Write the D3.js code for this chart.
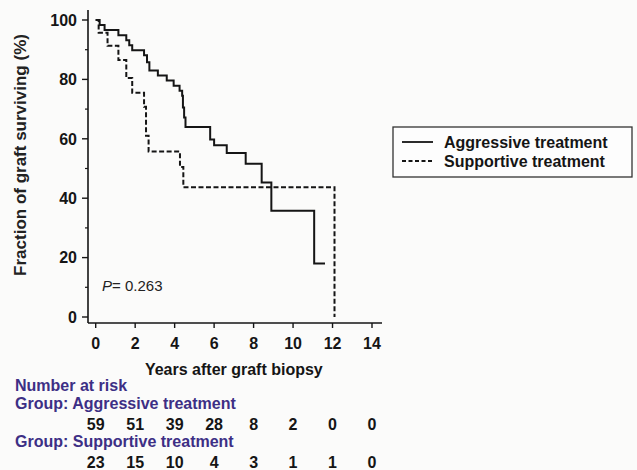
<!DOCTYPE html>
<html><head><meta charset="utf-8">
<script src="https://cdn.jsdelivr.net/npm/d3@7"></script>
<style>
html,body{margin:0;padding:0;background:#fbfbfa;}
svg{display:block;font-family:"Liberation Sans",Arial,sans-serif;}
</style></head>
<body>
<svg id="chart" width="637" height="470"></svg>
<script>
// ---- data ----
const aggressiveTimes  = [0, 0.2, 0.45, 1.15, 1.55, 1.7, 1.85, 2.45, 2.6, 2.72, 3.15, 3.6, 3.95, 4.25, 4.38, 4.42, 4.48, 4.55, 5.8, 6.0, 6.64, 7.6, 8.41, 8.9, 11.07, 11.62];
const aggressiveValues = [100, 98.3, 96.6, 94.9, 93.2, 91.5, 89.8, 88.1, 85.8, 83.0, 81.3, 79.6, 77.9, 76.2, 74.5, 70.5, 67.2, 64.0, 59.8, 57.8, 55.2, 51.6, 45.3, 35.8, 18.0, 18.0];
const supportiveTimes  = [0, 0.15, 0.6, 1.15, 1.55, 1.85, 2.45, 2.55, 2.68, 4.27, 4.44, 12.1];
const supportiveValues = [100, 95.7, 91.3, 86.5, 80.5, 75.5, 70.8, 61.0, 55.7, 50.5, 43.7, 0];
const xTicks = [0, 2, 4, 6, 8, 10, 12, 14];
const yTicks = [0, 20, 40, 60, 80, 100];
const yMinorTicks = [10, 30, 50, 70, 90];
const riskAggressive = [59, 51, 39, 28, 8, 2, 0, 0];
const riskSupportive = [23, 15, 10, 4, 3, 1, 1, 0];
const seriesNames = ["Aggressive treatment", "Supportive treatment"];

// ---- drawing ----
const svg = d3.select("#chart");
const ink = "#151515";
const x = d3.scaleLinear().domain([0, 14]).range([95.7, 372]);
const y = d3.scaleLinear().domain([0, 100]).range([317, 20]);

const axisLeftX = 88, axisBottomY = 323;

// y axis
const gy = svg.append("g").attr("transform", `translate(${axisLeftX},0)`);
gy.append("line").attr("x1",0).attr("x2",0).attr("y1",10).attr("y2",axisBottomY)
  .attr("stroke",ink).attr("stroke-width",1.6);
gy.selectAll("line.maj").data(yTicks).join("line").attr("class","maj")
  .attr("x1",-6).attr("x2",0).attr("y1",d=>y(d)).attr("y2",d=>y(d))
  .attr("stroke",ink).attr("stroke-width",1.4);
gy.selectAll("line.min").data(yMinorTicks).join("line").attr("class","min")
  .attr("x1",-3).attr("x2",0).attr("y1",d=>y(d)).attr("y2",d=>y(d))
  .attr("stroke",ink).attr("stroke-width",1.2);
gy.selectAll("text").data(yTicks).join("text")
  .attr("x",-11).attr("y",d=>y(d)).attr("dy","0.36em")
  .attr("text-anchor","end").attr("font-size",16).attr("font-weight","bold").attr("fill",ink)
  .text(d=>d);

// x axis
const gx = svg.append("g").attr("transform", `translate(0,${axisBottomY})`);
gx.append("line").attr("x1",axisLeftX).attr("x2",382).attr("y1",0).attr("y2",0)
  .attr("stroke",ink).attr("stroke-width",1.6);
gx.selectAll("line.t").data(xTicks).join("line").attr("class","t")
  .attr("x1",d=>x(d)).attr("x2",d=>x(d)).attr("y1",0).attr("y2",5)
  .attr("stroke",ink).attr("stroke-width",1.4);
gx.selectAll("text").data(xTicks).join("text")
  .attr("x",d=>x(d)).attr("y",26)
  .attr("text-anchor","middle").attr("font-size",16).attr("font-weight","bold").attr("fill",ink)
  .text(d=>d);

// axis titles
svg.append("text").attr("x",(x(0)+x(14))/2).attr("y",375)
  .attr("text-anchor","middle").attr("font-size",16).attr("font-weight","bold").attr("fill",ink)
  .text("Years after graft biopsy");
svg.append("text").attr("transform","translate(26,155) rotate(-90)")
  .attr("text-anchor","middle").attr("font-size",17).attr("font-weight","bold").attr("fill","#222")
  .text("Fraction of graft surviving (%)");

// curves
const line = d3.line().x(d=>x(d[0])).y(d=>y(d[1])).curve(d3.curveStepAfter);
const aggData = aggressiveTimes.map((t,i)=>[t, aggressiveValues[i]]);
const supData = supportiveTimes.map((t,i)=>[t, supportiveValues[i]]);
svg.append("path").attr("d",line(supData)).attr("fill","none")
  .attr("stroke",ink).attr("stroke-width",2).attr("stroke-dasharray","5,2.5");
svg.append("path").attr("d",line(aggData)).attr("fill","none")
  .attr("stroke",ink).attr("stroke-width",2);

// p-value
const pt = svg.append("text").attr("x",102).attr("y",291).attr("font-size",15).attr("fill","#222");
pt.append("tspan").attr("font-style","italic").text("P");
pt.append("tspan").text("= 0.263");

// legend
const lg = svg.append("g");
lg.append("rect").attr("x",393).attr("y",127).attr("width",239).attr("height",50)
  .attr("fill","#fdfdfd").attr("stroke","#333").attr("stroke-width",1.3);
const legRows = [142, 161];
seriesNames.forEach((name,i)=>{
  lg.append("line").attr("x1",402).attr("x2",433).attr("y1",legRows[i]).attr("y2",legRows[i])
    .attr("stroke",ink).attr("stroke-width",1.8)
    .attr("stroke-dasharray", i===1 ? "4,2.5" : null);
  lg.append("text").attr("x",444).attr("y",legRows[i]).attr("dy","0.36em")
    .attr("font-size",16).attr("font-weight","bold").attr("fill",ink).text(name);
});

// number at risk table
const purple = "#3d2f85";
const riskLabels = [["Number at risk",391],["Group: Aggressive treatment",409],["Group: Supportive treatment",447]];
riskLabels.forEach(([t,yy])=>{
  svg.append("text").attr("x",15).attr("y",yy).attr("font-size",16).attr("font-weight","bold")
    .attr("fill",purple).text(t);
});
[[riskAggressive,430],[riskSupportive,468]].forEach(([arr,yy])=>{
  svg.append("g").selectAll("text").data(arr).join("text")
    .attr("x",(d,i)=>x(xTicks[i])).attr("y",yy)
    .attr("text-anchor","middle").attr("font-size",16).attr("font-weight","bold").attr("fill",ink)
    .text(d=>d);
});
</script>
</body></html>
